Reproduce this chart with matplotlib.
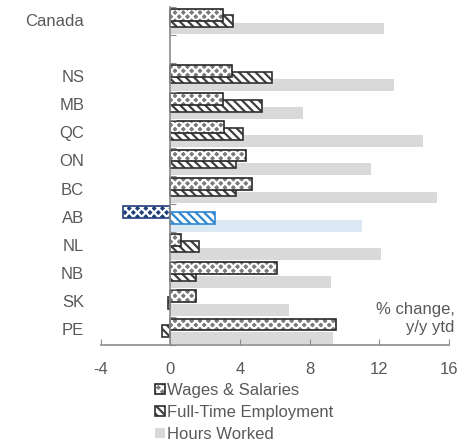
import matplotlib
matplotlib.use("Agg")
import matplotlib.pyplot as plt
import numpy as np
from matplotlib.patches import Patch

# year-to-date y/y % change by province; empty row separates Canada
regions = ["Canada", "", "NS", "MB", "QC", "ON", "BC", "AB", "NL", "NB", "SK", "PE"]
wages = [3.05, np.nan, 3.57, 3.05, 3.1, 4.37, 4.67, -2.7, 0.63, 6.15, 1.48, 9.54]
fte = [3.58, np.nan, 5.87, 5.25, 4.2, 3.8, 3.8, 2.6, 1.67, 1.48, -0.12, -0.48]
hours = [12.3, np.nan, 12.87, 7.6, 14.5, 11.55, 15.3, 11.0, 12.1, 9.26, 6.84, 9.37]
xticks = [-4, 0, 4, 8, 12, 16]
highlight = "AB"

plt.rcParams["font.family"] = ["Liberation Sans", "DejaVu Sans"]
plt.rcParams["font.size"] = 12
plt.rcParams["hatch.linewidth"] = 1.6

GREY_TXT = "#595959"
AXIS = "#8c8c8c"

fig = plt.figure(figsize=(4.72, 4.46), dpi=100)
ax = fig.add_axes([0.213, 0.2265, 0.738, 0.7575])

h = 0.42
for i, reg in enumerate(regions):
    if not reg:
        continue
    hi = reg == highlight
    # hours worked (drawn first, sits underneath)
    ax.barh(i + 0.76, hours[i], height=h, color="#dde8f5" if hi else "#d9d9d9", linewidth=0)
    # full-time employment: diagonal stripes
    ax.barh(i + 0.5, fte[i], height=h, color="white",
            edgecolor="#2e86d1" if hi else "#404040", hatch="\\\\\\\\", linewidth=0)
    ax.barh(i + 0.5, fte[i], height=h, fill=False,
            edgecolor="#2e86d1" if hi else "#303030", linewidth=1.2)
    # wages & salaries: white crosses on dark fill
    ax.barh(i + 0.27, wages[i], height=h, color="#1f3f7a" if hi else "#7a7a7a",
            edgecolor="white", hatch="xxxx", linewidth=0)
    ax.barh(i + 0.27, wages[i], height=h, fill=False,
            edgecolor="#1f3f7a" if hi else "#262626", linewidth=1.2)

ax.set_xlim(-4, 16)
ax.set_ylim(len(regions), 0)
ax.set_xticks(xticks)
ax.set_xticklabels([str(t) for t in xticks], color=GREY_TXT)
ax.tick_params(axis="x", direction="in", length=4, color=AXIS, pad=12)

# y axis runs through zero, ticks at category boundaries
ax.spines["left"].set_position(("data", 0))
ax.set_yticks(np.arange(len(regions) + 1))
ax.set_yticklabels([])
ax.tick_params(axis="y", direction="in", length=4, color=AXIS)
for side in ("top", "right"):
    ax.spines[side].set_visible(False)
for side in ("left", "bottom"):
    ax.spines[side].set_color(AXIS)
    ax.spines[side].set_linewidth(1.2)

for i, reg in enumerate(regions):
    ax.text(-0.047, i + 0.5, reg, transform=ax.get_yaxis_transform(),
            ha="right", va="center", color=GREY_TXT)

ax.text(1.017, 0.03, "% change,\ny/y ytd", transform=ax.transAxes,
        ha="right", va="bottom", color=GREY_TXT, linespacing=1.25)

handles = [
    (Patch(facecolor="#7a7a7a", edgecolor="white", hatch="xxxx", linewidth=0),
     Patch(fill=False, edgecolor="#262626", linewidth=1.2)),
    (Patch(facecolor="white", edgecolor="#404040", hatch="\\\\\\\\", linewidth=0),
     Patch(fill=False, edgecolor="#303030", linewidth=1.2)),
    Patch(facecolor="#d9d9d9", linewidth=0),
]
fig.legend(handles, ["Wages & Salaries", "Full-Time Employment", "Hours Worked"],
           loc="upper left", bbox_to_anchor=(0.328, 0.142), frameon=False,
           handlelength=0.6, handleheight=0.6, handletextpad=0.15,
           labelspacing=0.42, borderpad=0, borderaxespad=0, labelcolor=GREY_TXT)

fig.savefig("out.png", dpi=100)
